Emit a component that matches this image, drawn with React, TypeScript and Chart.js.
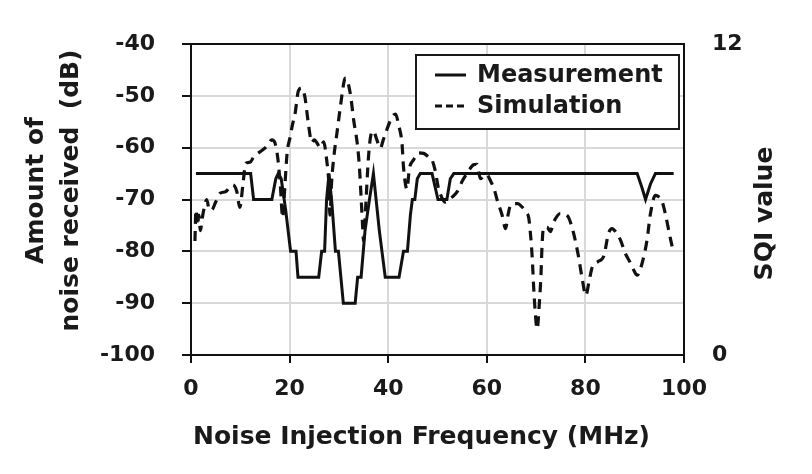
import React, { useEffect, useRef } from "react";
import { Chart, registerables } from "chart.js";

Chart.register(...registerables);

// ---- data ----
const measFreq = [1, 12.1, 12.7, 16.4, 17.2, 17.7, 18.3, 19.2, 20.2, 21.3, 21.7, 25.9, 26.5, 27.1, 27.5, 28.0, 28.6, 29.3, 29.9, 30.9, 33.3, 33.8, 34.5, 35.3, 36.2, 37.0, 38.2, 39.4, 42.2, 43.1, 43.9, 44.5, 44.9, 45.4, 45.9, 46.5, 48.9, 50.1, 51.9, 52.6, 53.3, 90.5, 91.4, 92.2, 93.2, 94.2, 97.9];
const measDb = [-65, -65, -70, -70, -66, -65, -66, -72, -80, -80, -85, -85, -80, -80, -70, -65, -71, -80, -80, -90, -90, -85, -85, -76, -70, -65, -76, -85, -85, -80, -80, -73, -70, -70, -66, -65, -65, -70, -70, -66, -65, -65, -67.5, -70, -67, -65, -65];

const simFreq = [0.8, 1.0, 1.3, 1.6, 1.9, 2.3, 2.7, 3.2, 3.7, 4.2, 5.0, 5.9, 7.0, 8.0, 8.5, 9.3, 9.9, 10.6, 11.1, 12.0, 12.7, 14.0, 15.3, 16.4, 17.0, 17.6, 18.1, 18.6, 19.0, 19.5, 20.1, 20.6, 21.1, 21.8, 22.5, 23.1, 23.8, 24.5, 25.0, 25.5, 26.2, 26.9, 27.6, 27.9, 28.2, 28.5, 28.9, 29.6, 30.3, 31.1, 31.4, 32.3, 33.0, 33.8, 34.2, 34.5, 34.8, 35.0, 35.4, 36.0, 36.5, 37.0, 37.7, 38.4, 39.0, 39.7, 40.8, 41.5, 42.1, 42.8, 43.1, 43.8, 44.3, 45.1, 46.2, 47.2, 48.2, 48.9, 49.5, 50.2, 50.6, 51.5, 53.0, 54.0, 55.0, 56.3, 57.3, 58.0, 58.7, 59.3, 60.0, 60.7, 61.5, 62.1, 63.1, 63.8, 64.3, 64.8, 65.4, 66.3, 67.1, 68.0, 68.5, 68.8, 69.2, 69.5, 69.8, 70.2, 70.7, 71.0, 71.2, 71.5, 72.2, 72.9, 73.5, 74.2, 74.9, 75.8, 76.6, 77.6, 78.6, 79.3, 80.1, 80.7, 81.4, 82.5, 83.7, 84.7, 85.4, 86.2, 87.1, 88.1, 89.0, 89.8, 90.5, 91.5, 92.5, 93.2, 94.2, 94.9, 95.6, 96.2, 97.3, 97.7];
const simDb = [-78, -72, -75, -73, -76, -73.5, -71.5, -70, -72, -72, -70.5, -68.8, -68.5, -67.5, -67.2, -68.5, -71.5, -66.5, -63, -62.8, -61.8, -60.8, -59.8, -58.5, -59, -62, -67, -73.5, -68, -61, -58, -55.5, -53.5, -49, -48.5, -50.2, -55.3, -59, -58.5, -59, -60, -58.9, -63, -66, -73, -67, -62.4, -57.2, -52.1, -47, -46.6, -49.5, -54.7, -59.8, -64.3, -69.5, -75, -78, -72, -61.8, -57.5, -56.8, -58.5, -60.1, -58.5, -56.6, -54, -53.5, -55.6, -59.2, -63.7, -68, -64, -62.4, -61, -61.1, -61.8, -62.4, -64.3, -67.9, -69, -70.5, -69.5, -68.5, -66.5, -64.5, -63.3, -63.2, -66, -65.5, -65.2, -66.3, -68, -70.1, -73, -75.6, -73, -71.1, -70.8, -70.8, -71.4, -72.5, -73.5, -76, -81, -86.8, -91.4, -95, -89.4, -84.3, -79, -75.5, -75.3, -76.2, -74.5, -73.3, -72.7, -72.8, -73.5, -76.5, -81, -85, -88.5, -86, -83, -82, -81, -76.5, -75.6, -76.3, -77.8, -80.4, -82, -83.6, -84.6, -82.3, -77.8, -72.7, -69.2, -69.5, -70.5, -72.7, -77.8, -79.5];

const xRange = [0, 100];
const xStep = 20;
const yLeftRange = [-100, -40];
const yLeftStep = 10;
const yRightRange = [0, 12];
const seriesNames = ["Measurement", "Simulation"];
const xTitle = "Noise Injection Frequency (MHz)";
const yLeftTitle = ["Amount of", "noise received  (dB)"];
const yRightTitle = "SQI value";

const FONT = '"DejaVu Sans", Verdana, sans-serif';
const TEXT = "#1a1a1a";
const GRID = "#d9d9d9";
const DASH = [10, 7];

const decor = {
  id: "decor",
  afterDraw(chart: any) {
    const { ctx, chartArea: a } = chart;
    ctx.save();
    // top frame line
    ctx.strokeStyle = "#111";
    ctx.lineWidth = 2;
    ctx.beginPath();
    ctx.moveTo(a.left - 1, a.top);
    ctx.lineTo(a.right + 1, a.top);
    ctx.stroke();

    // legend box
    const lw = 263, lh = 74;
    const lx = a.right - 268, ly = a.top + 11;
    ctx.fillStyle = "#ffffff";
    ctx.fillRect(lx, ly, lw, lh);
    ctx.strokeStyle = "#1a1a1a";
    ctx.lineWidth = 2;
    ctx.strokeRect(lx, ly, lw, lh);
    const rows = [ly + 20, ly + 51];
    ctx.lineWidth = 3;
    ctx.strokeStyle = "#111";
    rows.forEach((ry, i) => {
      ctx.setLineDash(i === 0 ? [] : [7, 4]);
      ctx.beginPath();
      ctx.moveTo(lx + 19, ry);
      ctx.lineTo(lx + 50, ry);
      ctx.stroke();
    });
    ctx.setLineDash([]);
    ctx.fillStyle = TEXT;
    ctx.font = `bold 24px ${FONT}`;
    ctx.textAlign = "left";
    ctx.textBaseline = "middle";
    rows.forEach((ry, i) => ctx.fillText(seriesNames[i], lx + 61, ry + 1));

    // axis titles
    ctx.font = `bold 25px ${FONT}`;
    ctx.textAlign = "center";
    ctx.textBaseline = "middle";
    const cx = (a.left + a.right) / 2;
    const cy = (a.top + a.bottom) / 2;
    ctx.fillText(xTitle, cx - 16, a.bottom + 82);

    ctx.save();
    ctx.translate(0, cy - 9);
    ctx.rotate(-Math.PI / 2);
    ctx.fillText(yLeftTitle[0], 0, 36);
    ctx.fillText(yLeftTitle[1], 0, 71);
    ctx.restore();

    ctx.save();
    ctx.translate(a.right + 81, cy + 14);
    ctx.rotate(-Math.PI / 2);
    ctx.fillText(yRightTitle, 0, 0);
    ctx.restore();

    ctx.restore();
  },
};

export default function App() {
  const ref = useRef<HTMLCanvasElement | null>(null);

  useEffect(() => {
    document.body.style.margin = "0";
    const canvas = ref.current;
    if (!canvas) return;
    const tickFont = { family: FONT, size: 22, weight: "bold" as const };
    const chart = new Chart(canvas, {
      type: "line",
      data: {
        datasets: [
          {
            label: seriesNames[0],
            data: measFreq.map((f, i) => ({ x: f, y: measDb[i] })),
            borderColor: "#111",
            borderWidth: 3,
            pointRadius: 0,
            tension: 0,
            yAxisID: "y",
          },
          {
            label: seriesNames[1],
            data: simFreq.map((f, i) => ({ x: f, y: simDb[i] })),
            borderColor: "#111",
            borderWidth: 3.2,
            borderDash: DASH,
            pointRadius: 0,
            tension: 0.3,
            cubicInterpolationMode: "monotone",
            yAxisID: "y",
          },
        ],
      },
      options: {
        responsive: false,
        animation: false,
        events: [],
        layout: { padding: { left: 0, right: 0, top: 44, bottom: 0 } },
        plugins: { legend: { display: false }, tooltip: { enabled: false }, title: { display: false } },
        scales: {
          x: {
            type: "linear",
            min: xRange[0],
            max: xRange[1],
            ticks: { stepSize: xStep, font: tickFont, color: TEXT, padding: 13, maxRotation: 0 },
            grid: { color: GRID, lineWidth: 2, tickColor: "#111", tickLength: 8 },
            border: { color: "#111", width: 2 },
            afterFit: (s: any) => { s.height = 119; },
          },
          y: {
            type: "linear",
            position: "left",
            min: yLeftRange[0],
            max: yLeftRange[1],
            ticks: { stepSize: yLeftStep, font: tickFont, color: TEXT, padding: 27 },
            grid: { color: GRID, lineWidth: 2, tickColor: "#111", tickLength: 9 },
            border: { color: "#111", width: 2 },
            afterFit: (s: any) => { s.width = 191; },
          },
          y2: {
            type: "linear",
            position: "right",
            display: true,
            min: yRightRange[0],
            max: yRightRange[1],
            ticks: { stepSize: yRightRange[1] - yRightRange[0], font: tickFont, color: TEXT, padding: 28 },
            grid: { display: false, drawTicks: false, drawOnChartArea: false },
            border: { display: true, color: "#111", width: 2 },
            afterFit: (s: any) => { s.width = 128; },
          },
        },
      },
      plugins: [decor],
    });
    return () => chart.destroy();
  }, []);

  return (
    <div style={{ position: "absolute", left: 0, top: 0, width: 812, height: 474, background: "#fff" }}>
      <canvas ref={ref} width={812} height={474} style={{ display: "block", width: 812, height: 474 }} />
    </div>
  );
}
